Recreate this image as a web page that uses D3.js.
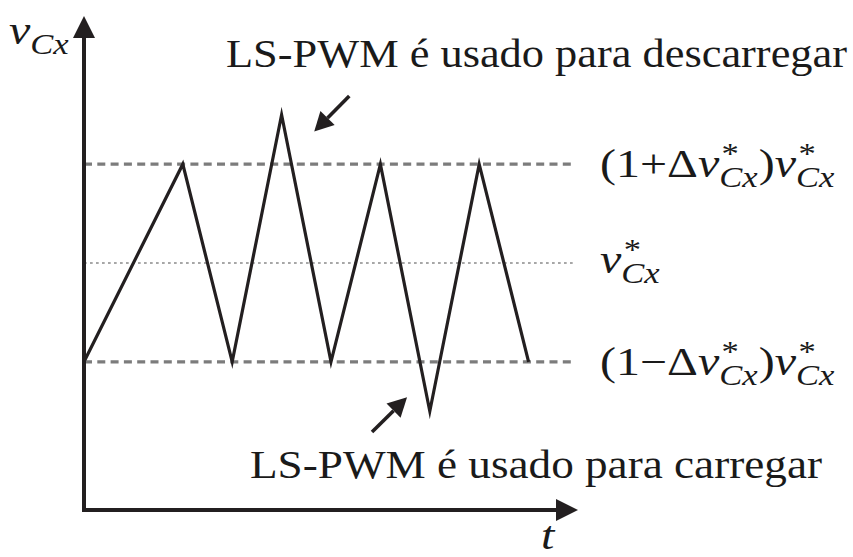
<!DOCTYPE html>
<html>
<head>
<meta charset="utf-8">
<script src="https://cdn.jsdelivr.net/npm/d3@7"></script>
<style>
  html, body { margin: 0; padding: 0; background: #fff; }
  svg { display: block; }
</style>
</head>
<body>
<svg id="chart" width="853" height="557"></svg>
<script>
// Capacitor voltage v_Cx over time, switching between two LS-PWM modes
const times = [0, 2, 3, 4, 5, 6, 7, 8, 9];
const vCx = [0.9, 1.1, 0.9, 1.15, 0.9, 1.1, 0.85, 1.1, 0.9];

// Reference band: upper limit, reference, lower limit
const refLevels = [1.1, 1.0, 0.9];
const refStyles = ["dash", "dot", "dash"];
const refLabels = [
  [{ t: "(1+Δ" }, { t: "v", it: true }, { sup: "*", sub: "Cx" }, { t: ")" }, { t: "v", it: true }, { sup: "*", sub: "Cx" }],
  [{ t: "v", it: true }, { sup: "*", sub: "Cx" }],
  [{ t: "(1−Δ" }, { t: "v", it: true }, { sup: "*", sub: "Cx" }, { t: ")" }, { t: "v", it: true }, { sup: "*", sub: "Cx" }]
];

// Annotations: sentence and arrow (tail -> head) in data units
const noteTexts = ["LS-PWM é usado para descarregar", "LS-PWM é usado para carregar"];
const noteArrows = [
  { from: [5.37, 1.169], to: [4.66, 1.133] },
  { from: [5.83, 0.829], to: [6.54, 0.864] }
];

const tDomain = [0, 10];
const vDomain = [0.75, 1.25];
const refEnd = 9.9;

const serif = "'Liberation Serif', 'DejaVu Serif', 'Times New Roman', serif";
const svg = d3.select("#chart");
const x = d3.scaleLinear().domain(tDomain).range([84, 578]);
const y = d3.scaleLinear().domain(vDomain).range([510, 16]);

const ink = "#231f20";
const grey = "#7c7c7c";

// Reference lines
svg.append("g").selectAll("line")
  .data(refLevels)
  .join("line")
  .attr("x1", x(0)).attr("x2", x(refEnd))
  .attr("y1", d => y(d)).attr("y2", d => y(d))
  .attr("stroke", (d, i) => refStyles[i] === "dash" ? grey : "#8a8a8a")
  .attr("stroke-width", (d, i) => refStyles[i] === "dash" ? 3.2 : 1.6)
  .attr("stroke-dasharray", (d, i) => refStyles[i] === "dash" ? "8 5.3" : "2.7 3.3");

// Waveform
const line = d3.line().x(d => x(d[0])).y(d => y(d[1]));
svg.append("path")
  .datum(times.map((t, i) => [t, vCx[i]]))
  .attr("d", line)
  .attr("fill", "none")
  .attr("stroke", ink)
  .attr("stroke-width", 3.2)
  .attr("stroke-linejoin", "miter")
  .attr("stroke-miterlimit", 10);

// Arrow helper: shaft plus filled triangular head
function arrow(g, x1, y1, x2, y2, headLen, headHalf, width) {
  const ang = Math.atan2(y2 - y1, x2 - x1);
  const bx = x2 - headLen * Math.cos(ang), by = y2 - headLen * Math.sin(ang);
  if (width > 0) {
    g.append("line")
      .attr("x1", x1).attr("y1", y1).attr("x2", bx).attr("y2", by)
      .attr("stroke", ink).attr("stroke-width", width).attr("stroke-linecap", "butt");
  }
  const nx = -Math.sin(ang), ny = Math.cos(ang);
  g.append("path")
    .attr("d", `M${x2},${y2}L${bx + nx * headHalf},${by + ny * headHalf}L${bx - nx * headHalf},${by - ny * headHalf}Z`)
    .attr("fill", ink);
}

// Axes
const axes = svg.append("g");
axes.append("line")
  .attr("x1", x(tDomain[0])).attr("y1", y(vDomain[0]))
  .attr("x2", x(tDomain[0])).attr("y2", y(vDomain[1]) + 18)
  .attr("stroke", ink).attr("stroke-width", 4).attr("stroke-linecap", "square");
axes.append("line")
  .attr("x1", x(tDomain[0])).attr("y1", y(vDomain[0]))
  .attr("x2", x(tDomain[1]) - 18).attr("y2", y(vDomain[0]))
  .attr("stroke", ink).attr("stroke-width", 4).attr("stroke-linecap", "square");
arrow(axes, x(tDomain[0]), y(vDomain[0]), x(tDomain[0]), y(vDomain[1]), 22, 11, 0);
arrow(axes, x(tDomain[0]), y(vDomain[0]), x(tDomain[1]), y(vDomain[0]), 22, 11, 0);

// Annotation arrows
const notesG = svg.append("g");
noteArrows.forEach(a => {
  arrow(notesG, x(a.from[0]), y(a.from[1]), x(a.to[0]), y(a.to[1]), 19, 10, 3.6);
});

// Annotation sentences
const noteLayout = [
  { right: 847, base: 67, width: 621 },
  { right: 822, base: 478, width: 572 }
];
noteTexts.forEach((s, i) => {
  svg.append("text")
    .attr("x", noteLayout[i].right)
    .attr("y", noteLayout[i].base)
    .attr("text-anchor", "end")
    .attr("textLength", noteLayout[i].width)
    .attr("lengthAdjust", "spacingAndGlyphs")
    .attr("font-family", serif)
    .attr("font-size", 40)
    .attr("fill", "#1a1a1a")
    .text(s);
});

// Math label: one text element, runs placed as tspans with stacked super/subscripts
function mathLabel(parent, parts, fs, x0, y0, sx) {
  const txt = parent.append("text")
    .attr("transform", `translate(${x0},${y0}) scale(${sx},1)`)
    .attr("font-family", serif)
    .attr("fill", "#1a1a1a");
  let cx = 0;
  parts.forEach(p => {
    if (p.sup !== undefined || p.sub !== undefined) {
      let w = 0;
      if (p.sup) {
        const s = txt.append("tspan").attr("x", cx + 1).attr("y", -fs * 0.36)
          .attr("font-size", fs * 0.72).attr("font-style", "normal").text(p.sup);
        w = Math.max(w, s.node().getComputedTextLength() + 1);
      }
      if (p.sub) {
        const s = txt.append("tspan").attr("x", cx - 1).attr("y", fs * 0.26)
          .attr("font-size", fs * 0.72).attr("font-style", "italic").text(p.sub);
        w = Math.max(w, s.node().getComputedTextLength() - 1);
      }
      cx += w + 1;
    } else {
      const s = txt.append("tspan").attr("x", cx).attr("y", 0)
        .attr("font-size", fs).attr("font-style", p.it ? "italic" : "normal").text(p.t);
      cx += s.node().getComputedTextLength() + (p.it ? 1 : 0);
    }
  });
  return txt;
}

const labelsG = svg.append("g");
const labelBase = [177, 273, 375];
refLabels.forEach((parts, i) => {
  mathLabel(labelsG, parts, 40, 600, labelBase[i], 1.2);
});

// Axis names
mathLabel(labelsG, [{ t: "v", it: true }, { sub: "Cx" }], 40, 9, 44, 1.2);
mathLabel(labelsG, [{ t: "t", it: true }], 40, 541, 549, 1.2);
</script>
</body>
</html>
